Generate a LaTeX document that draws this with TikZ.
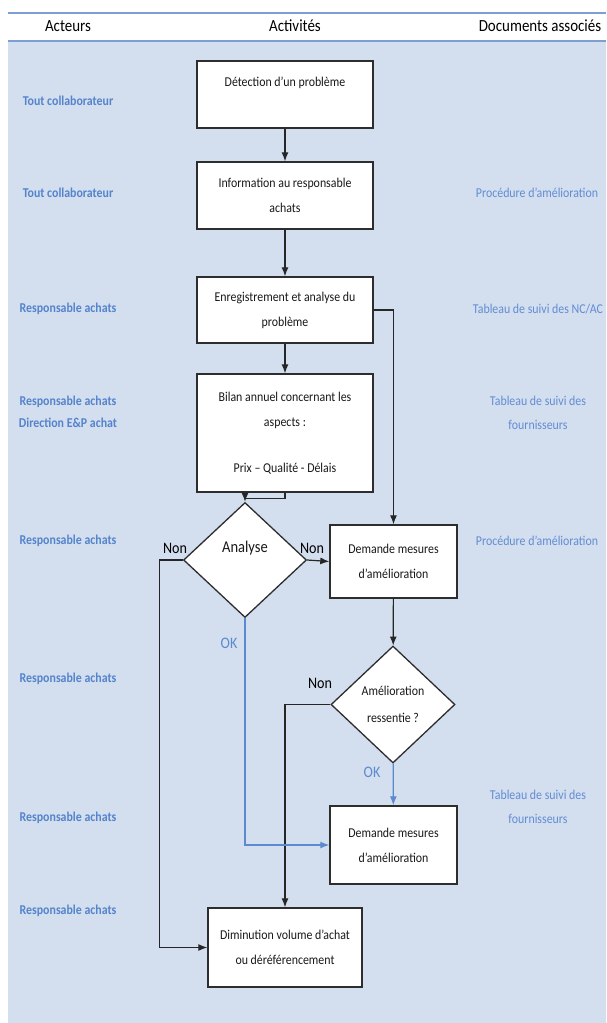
\documentclass[tikz,border=0pt]{standalone}
\usepackage{fontspec}
\setmainfont[FakeStretch=0.88]{Carlito}
\usetikzlibrary{shapes.geometric,arrows.meta}
\definecolor{fondbleu}{RGB}{211,222,238}
\definecolor{filet}{RGB}{125,158,210}
\definecolor{bleuacteur}{RGB}{84,132,204}
\definecolor{bleudoc}{RGB}{98,141,212}
\definecolor{bleuok}{RGB}{92,138,208}
\definecolor{bord}{RGB}{45,45,45}

\begin{document}
\begin{tikzpicture}[x=1pt,y=-1pt,
    activite/.style={draw=bord,line width=1.4pt,fill=white,align=center,inner sep=0pt,
      font=\fontsize{13.5}{25}\selectfont,text=black!90},
    choix/.style={diamond,draw=bord,line width=1.3pt,fill=white,align=center,inner sep=0pt,
      font=\fontsize{13.5}{27}\selectfont,text=black!90},
    libchoix/.style={inner sep=0pt,font=\fontsize{16.5}{20}\selectfont,text=black!90},
    entete/.style={font=\fontsize{17}{20}\selectfont},
    acteur/.style={text=bleuacteur,align=center,font=\bfseries\fontsize{13.5}{22}\selectfont},
    document/.style={text=bleudoc,align=center,font=\fontsize{13.5}{24}\selectfont},
    fleche/.style={draw=black!85,line width=1.2pt,-{Latex[length=9pt,width=7pt]}},
    flecheok/.style={draw=bleuok,line width=1.2pt,-{Latex[length=9pt,width=7pt]}},
    reponse/.style={font=\fontsize{16}{18}\selectfont},
    repok/.style={text=bleuok,font=\fontsize{16}{18}\selectfont}]

  % fond et en-tete
  \useasboundingbox (0,0) rectangle (606,1023);
  \fill[fondbleu] (8,42) rectangle (606,1023);
  \draw[filet,line width=2pt] (8,12.5) -- (606,12.5);
  \draw[filet,line width=2pt] (8,41) -- (606,41);
  \node[entete] (hacteurs) at (68,26) {Acteurs};
  \node[entete] (hactivites) at (295,26) {Activités};
  \node[entete] (hdocs) at (540,26) {Documents associés};

  % activites
  \node[activite,minimum width=176,minimum height=67] (detection) at (285,94.5) {Détection d’un problème\\~};
  \node[activite,minimum width=176,minimum height=67] (information) at (285,195.5) {Information au responsable\\achats};
  \node[activite,minimum width=176,minimum height=66] (enregistrement) at (285,310) {Enregistrement et analyse du\\problème};
  \node[activite,minimum width=176,minimum height=118] (bilan) at (285,433) {Bilan annuel concernant les\\aspects :\\[21pt]Prix – Qualité - Délais};
  \node[choix,minimum width=123,minimum height=115] (analyse) at (245,560) {};
  \node[libchoix] (tanalyse) at ([yshift=12pt]analyse.center) {Analyse};
  \node[activite,minimum width=127,minimum height=73] (demande1) at (393.5,561.5) {Demande mesures\\d’amélioration};
  \node[choix,minimum width=124,minimum height=117] (amelioration) at (393,704.5) {Amélioration\\ressentie ?};
  \node[activite,minimum width=127,minimum height=78] (demande2) at (393.5,845) {Demande mesures\\d’amélioration};
  \node[activite,minimum width=154,minimum height=79] (diminution) at (285,947.5) {Diminution volume d’achat\\ou déréférencement};

  % liaisons
  \draw[fleche] (detection) -- (information);
  \draw[fleche] (information) -- (enregistrement);
  \draw[fleche] (enregistrement) -- (bilan);
  \draw[fleche] (bilan.south) -- ++(0,6) -| (analyse.north);
  \draw[fleche] (enregistrement.east) -| (demande1.north);
  \draw[fleche] (analyse.east) -- (demande1.west);
  \draw[fleche] (analyse.west) -- ++(-23,0) |- (diminution.west);
  \draw[fleche] (demande1) -- (amelioration);
  \draw[fleche] (amelioration.west) -| (diminution.north);
  \draw[flecheok] (amelioration) -- (demande2);
  \draw[flecheok] (analyse.south) |- (demande2.west);

  \node[reponse] (nong) at (175,548) {Non};
  \node[reponse] (nond) at (312,548) {Non};
  \node[reponse] (nona) at (320,683) {Non};
  \node[repok] (oka) at (229,643) {OK};
  \node[repok] (okb) at (372,772) {OK};

  % acteurs
  \node[acteur] (a1) at (68,101) {Tout collaborateur};
  \node[acteur] (a2) at (68,193) {Tout collaborateur};
  \node[acteur] (a3) at (68,309) {Responsable achats};
  \node[acteur] (a4) at (68,412) {Responsable achats\\Direction E\&P achat};
  \node[acteur] (a5) at (68,541) {Responsable achats};
  \node[acteur] (a6) at (68,679) {Responsable achats};
  \node[acteur] (a7) at (68,818) {Responsable achats};
  \node[acteur] (a8) at (68,911) {Responsable achats};

  % documents
  \node[document] (d1) at (537,193) {Procédure d’amélioration};
  \node[document] (d2) at (538,309) {Tableau de suivi des NC/AC};
  \node[document] (d3) at (538,413) {Tableau de suivi des\\fournisseurs};
  \node[document] (d4) at (537,541) {Procédure d’amélioration};
  \node[document] (d5) at (538,807) {Tableau de suivi des\\fournisseurs};
\end{tikzpicture}
\end{document}
